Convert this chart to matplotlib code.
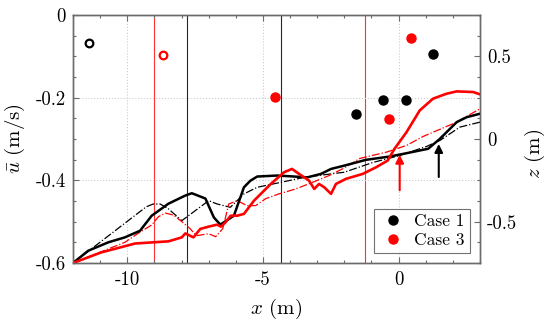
import matplotlib
matplotlib.use("Agg")
import matplotlib.pyplot as plt
from matplotlib.ticker import MultipleLocator, FixedLocator
from matplotlib.lines import Line2D

plt.rcParams['font.family'] = 'serif'
plt.rcParams['font.serif'] = ['cmr10', 'DejaVu Serif']
plt.rcParams['mathtext.fontset'] = 'cm'
plt.rcParams['axes.unicode_minus'] = False
plt.rcParams['axes.formatter.use_mathtext'] = True

# ---- data ----
# Case 1 measured profile (black solid), z (m)
bs_x = [-12, -11.44, -10.7, -10.09, -9.53, -9.1, -8.48, -7.86, -7.62, -7.12, -6.81, -6.57,
        -6.07, -5.7, -5.46, -5.21, -4.47, -3.85, -3.36, -2.86, -2.49, -2.0, -1.2, -0.33,
        0.29, 1.09, 1.52, 2.14, 2.51, 3.0]
bs_z = [-0.75, -0.676, -0.625, -0.595, -0.555, -0.464, -0.391, -0.342, -0.328, -0.36, -0.474, -0.518,
        -0.464, -0.292, -0.252, -0.227, -0.221, -0.227, -0.232, -0.211, -0.181, -0.161, -0.126, -0.106,
        -0.086, -0.059, 0.001, 0.102, 0.132, 0.153]
# Case 1 reference profile (black dash-dot)
bd_x = [-12, -9.3, -9.04, -8.79, -8.5, -7.99, -7.0, -6.69, -6.2, -5.7, -5.21, -4.34, -3.48,
        -2.49, -2.0, -0.95, 0.04, 1.03, 1.52, 2.26, 3.0]
bd_z = [-0.75, -0.41, -0.393, -0.393, -0.42, -0.494, -0.373, -0.393, -0.413, -0.332, -0.292, -0.262, -0.232,
        -0.211, -0.201, -0.142, -0.10, -0.045, -0.009, 0.072, 0.102]
# Case 3 measured profile (red solid)
rs_x = [-12, -10.96, -9.71, -8.48, -7.99, -7.86, -7.56, -7.31, -7.0, -6.69, -6.55, -6.38, -6.19,
        -5.95, -5.7, -5.33, -4.71, -4.22, -3.93, -3.67, -3.3, -3.11, -2.93, -2.74, -2.49, -2.31,
        -1.94, -1.32, -0.83, -0.4, -0.15, 0.29, 0.78, 1.27, 1.77, 2.14, 2.75, 3.0]
rs_z = [-0.75, -0.686, -0.632, -0.619, -0.595, -0.571, -0.595, -0.544, -0.53, -0.518, -0.53, -0.504, -0.464,
        -0.464, -0.453, -0.373, -0.272, -0.201, -0.181, -0.211, -0.252, -0.302, -0.272, -0.292, -0.332, -0.272,
        -0.241, -0.211, -0.171, -0.130, -0.059, 0.041, 0.173, 0.244, 0.274, 0.288, 0.284, 0.27]
# Case 3 reference profile (red dash-dot)
rd_x = [-12, -10.09, -9.5, -9.1, -8.85, -8.6, -8.3, -7.99, -7.7, -7.45, -7.0, -6.74, -6.48,
        -6.26, -5.95, -5.58, -5.27, -4.9, -4.41, -3.79, -3.17, -2.56, -2.0, -1.44, -0.46,
        0.29, 0.9, 2.14, 3.0]
rd_z = [-0.75, -0.625, -0.56, -0.52, -0.47, -0.448, -0.46, -0.50, -0.54, -0.585, -0.573, -0.591, -0.542,
        -0.393, -0.373, -0.403, -0.403, -0.361, -0.332, -0.302, -0.262, -0.221, -0.175, -0.118, -0.080,
        -0.039, 0.015, 0.102, 0.183]

# Mean velocity points, u (m/s)
c1_fill_x = [-1.57, -0.56, 0.26, 1.27]
c1_fill_u = [-0.240, -0.206, -0.206, -0.094]
c3_fill_x = [-4.57, -0.36, 0.47]
c3_fill_u = [-0.198, -0.252, -0.056]
c1_open_x = [-11.42]
c1_open_u = [-0.068]
c3_open_x = [-8.7]
c3_open_u = [-0.097]

# vertical reference lines
vlines_black = [-7.8, -4.33]
vlines_red = [-9.0, -1.25]

# arrows (x, tail z, tip z)
arrow_red = (0.04, -0.31, -0.095)
arrow_black = (1.48, -0.23, -0.03)

spine_c = '0.42'

fig = plt.figure(figsize=(5.5, 3.24), dpi=100)
ax = fig.add_axes([73/550, 1 - 263/324, 407/550, 248/324])
ax2 = ax.twinx()

ax.set_xlim(-12, 3)
ax.set_ylim(-0.6, 0)
ax2.set_ylim(-0.75, 0.75)

# grid
ax.grid(True, which='major', linestyle=':', color='0.8', linewidth=0.8)

for xv in vlines_black:
    ax.axvline(xv, color='0.15', lw=0.8, zorder=1)
for xv in vlines_red:
    ax.axvline(xv, color='#ff3030', lw=0.8, zorder=1)

# points
ax.plot(c1_fill_x, c1_fill_u, 'o', color='black', ms=6.5, ls='none', zorder=3)
ax.plot(c3_fill_x, c3_fill_u, 'o', color='red', ms=6.5, ls='none', zorder=3)
ax.plot(c1_open_x, c1_open_u, 'o', mfc='none', mec='black', mew=1.6, ms=5.5, ls='none', zorder=3)
ax.plot(c3_open_x, c3_open_u, 'o', mfc='none', mec='red', mew=1.6, ms=5.5, ls='none', zorder=3)

# profiles
ax2.plot(bd_x, bd_z, color='black', lw=0.9, ls='-.')
ax2.plot(rd_x, rd_z, color='red', lw=0.9, ls='-.')
ax2.plot(bs_x, bs_z, color='black', lw=1.8)
ax2.plot(rs_x, rs_z, color='red', lw=1.9)

for (xa, z0, z1), col in [(arrow_red, 'red'), (arrow_black, 'black')]:
    ax2.annotate('', xy=(xa, z1), xytext=(xa, z0),
                 arrowprops=dict(arrowstyle='-|>', color=col, lw=1.5,
                                 mutation_scale=12, shrinkA=0, shrinkB=0))

# ticks
ax.xaxis.set_major_locator(FixedLocator([-10, -5, 0]))
ax.xaxis.set_minor_locator(MultipleLocator(1))
ax.yaxis.set_major_locator(FixedLocator([-0.6, -0.4, -0.2, 0]))
ax.yaxis.set_minor_locator(MultipleLocator(0.05))
ax2.yaxis.set_major_locator(FixedLocator([-0.5, 0, 0.5]))
ax2.yaxis.set_minor_locator(MultipleLocator(0.125))

ax.tick_params(axis='x', which='both', direction='in', top=True, bottom=True,
               color=spine_c, labelsize=13.5, pad=6)
ax.tick_params(axis='y', which='both', direction='in', left=True, right=False,
               color=spine_c, labelsize=13.5, pad=5)
ax2.tick_params(axis='y', which='both', direction='in', right=True, left=False,
                color=spine_c, labelsize=13.5, pad=5)
for a in (ax, ax2):
    a.tick_params(which='major', length=4.5, width=0.8)
    a.tick_params(which='minor', length=2.5, width=0.8)
    for s in a.spines.values():
        s.set_color(spine_c)
        s.set_linewidth(1.0)

ax.set_yticklabels(['-0.6', '-0.4', '-0.2', '0'])
ax2.set_yticklabels(['-0.5', '0', '0.5'])
ax.set_xticklabels(['-10', '-5', '0'])

ax.set_xlabel(r'$x$ (m)', fontsize=15)
ax.set_ylabel(r'$\bar{u}$ (m/s)', fontsize=15)
ax2.set_ylabel(r'$z$ (m)', fontsize=15)
ax.xaxis.set_label_coords(0.5, -0.135)
ax.yaxis.set_label_coords(-0.112, 0.5)
ax2.yaxis.set_label_coords(1.105, 0.44)

handles = [Line2D([], [], marker='o', color='black', ls='none', ms=6.5),
           Line2D([], [], marker='o', color='red', ls='none', ms=6.5)]
leg = ax2.legend(handles, ['Case 1', 'Case 3'], loc='lower right',
                 bbox_to_anchor=(0.975, 0.04), fontsize=12.5, frameon=True,
                 fancybox=False, edgecolor='0.3', borderpad=0.3, handletextpad=0.4,
                 labelspacing=0.2, handlelength=1.6, borderaxespad=0)
leg.get_frame().set_linewidth(0.8)

fig.savefig('out.png', dpi=100)
